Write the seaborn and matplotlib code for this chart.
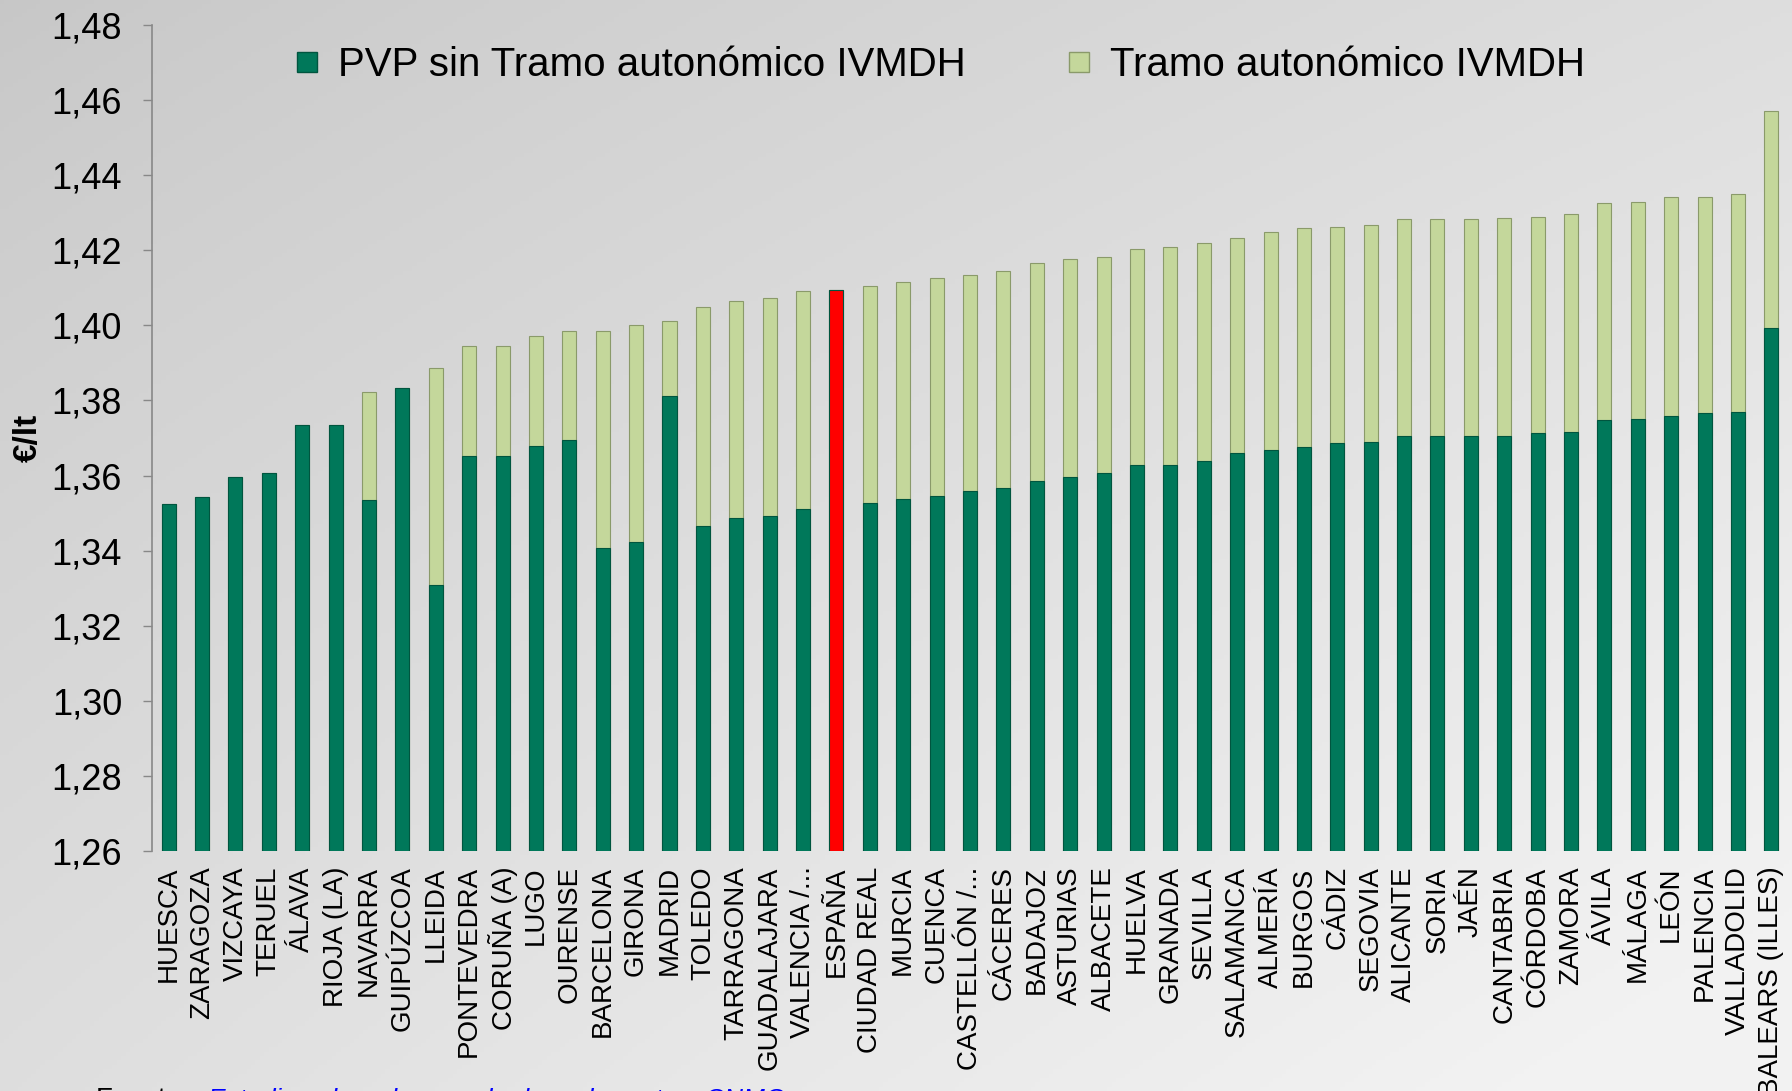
import numpy as np
import pandas as pd
import matplotlib
matplotlib.use("Agg")
import matplotlib.pyplot as plt
from matplotlib.lines import Line2D
import seaborn as sns

provincias = [
    "HUESCA", "ZARAGOZA", "VIZCAYA", "TERUEL", "ÁLAVA", "RIOJA (LA)", "NAVARRA",
    "GUIPÚZCOA", "LLEIDA", "PONTEVEDRA", "CORUÑA (A)", "LUGO", "OURENSE",
    "BARCELONA", "GIRONA", "MADRID", "TOLEDO", "TARRAGONA", "GUADALAJARA",
    "VALENCIA /...", "ESPAÑA", "CIUDAD REAL", "MURCIA", "CUENCA", "CASTELLÓN /...",
    "CÁCERES", "BADAJOZ", "ASTURIAS", "ALBACETE", "HUELVA", "GRANADA", "SEVILLA",
    "SALAMANCA", "ALMERÍA", "BURGOS", "CÁDIZ", "SEGOVIA", "ALICANTE", "SORIA",
    "JAÉN", "CANTABRIA", "CÓRDOBA", "ZAMORA", "ÁVILA", "MÁLAGA", "LEÓN",
    "PALENCIA", "VALLADOLID", "BALEARS (ILLES)",
]

# PVP sin tramo autonómico (€/lt)
pvp_sin_tramo = [
    1.3525, 1.3543, 1.3595, 1.3607, 1.3735, 1.3735, 1.3534,
    1.3832, 1.3309, 1.3653, 1.3653, 1.3680, 1.3696,
    1.3406, 1.3422, 1.3811, 1.3467, 1.3486, 1.3492,
    1.3510, 1.4094, 1.3528, 1.3537, 1.3546, 1.3559,
    1.3568, 1.3586, 1.3595, 1.3607, 1.3629, 1.3629, 1.3638,
    1.3659, 1.3668, 1.3677, 1.3686, 1.3689, 1.3705, 1.3705,
    1.3705, 1.3705, 1.3714, 1.3717, 1.3747, 1.3750, 1.3759,
    1.3766, 1.3769, 1.3994,
]

# PVP total incluyendo tramo autonómico IVMDH (€/lt)
pvp_total = [
    1.3525, 1.3543, 1.3595, 1.3607, 1.3735, 1.3735, 1.3823,
    1.3832, 1.3887, 1.3945, 1.3945, 1.3972, 1.3985,
    1.3985, 1.4000, 1.4012, 1.4049, 1.4064, 1.4073,
    1.4091, 1.4094, 1.4106, 1.4115, 1.4125, 1.4134,
    1.4146, 1.4167, 1.4176, 1.4182, 1.4204, 1.4210, 1.4219,
    1.4234, 1.4249, 1.4259, 1.4262, 1.4268, 1.4283, 1.4283,
    1.4283, 1.4286, 1.4289, 1.4298, 1.4326, 1.4329, 1.4341,
    1.4341, 1.4350, 1.4572,
]

y_ticks = [1.26, 1.28, 1.30, 1.32, 1.34, 1.36, 1.38, 1.40, 1.42, 1.44, 1.46, 1.48]

verde = "#00785A"
verde_claro = "#C4D79B"
rojo = "#FF0000"

df = pd.DataFrame({"prov": provincias, "base": pvp_sin_tramo, "total": pvp_total})

sns.set_style("white")
plt.rcParams["font.family"] = ["Liberation Sans", "DejaVu Sans"]
plt.rcParams["text.color"] = "black"
plt.rcParams["xtick.color"] = "black"
plt.rcParams["ytick.color"] = "black"
plt.rcParams["axes.labelcolor"] = "black"

fig = plt.figure(figsize=(17.92, 10.91), dpi=100)

# grey gradient background
bg = fig.add_axes([0, 0, 1, 1], zorder=-10)
gx, gy = np.meshgrid(np.linspace(0, 1, 400), np.linspace(0, 1, 250))
s = np.clip(0.45 * gx + 0.45 * gy + 0.2 * gx * gy, 0, 1) ** 0.8
val = 0.78 + 0.17 * s
bg.imshow(np.dstack([val, val, val]), aspect="auto", extent=[0, 1, 1, 0])
bg.set_axis_off()

ax = fig.add_axes([0.0848, 0.22, 0.913, 0.757])
ax.patch.set_alpha(0)

top_cols = [rojo if p == "ESPAÑA" else verde_claro for p in provincias]
base_cols = [rojo if p == "ESPAÑA" else verde for p in provincias]

sns.barplot(data=df, x="prov", y="total", hue="prov", palette=top_cols,
            legend=False, width=0.42, ax=ax, edgecolor="#8a9a6a", linewidth=0.8,
            saturation=1)
sns.barplot(data=df, x="prov", y="base", hue="prov", palette=base_cols,
            legend=False, width=0.42, ax=ax, edgecolor="#00553f", linewidth=0.8,
            saturation=1)

ax.set_ylim(1.26, 1.48)
ax.set_xlim(-0.5, len(provincias) - 0.5)
ax.set_yticks(y_ticks)
ax.set_yticklabels([f"{v:.2f}".replace(".", ",") for v in y_ticks], fontsize=26)
ax.tick_params(axis="y", direction="out", length=6.5, width=1, color="#888888",
               pad=15, left=True, labelcolor="black")
ax.tick_params(axis="x", length=0, pad=11, labelcolor="black")
ax.set_xticks(range(len(provincias)))
ax.set_xticklabels(provincias, rotation=90, fontsize=20, va="top", ha="center")
ax.set_xlabel("")
ax.set_ylabel("€/lt", fontsize=24, fontweight="bold")
ax.yaxis.set_label_coords(-0.066, 0.50)

for side in ["top", "right", "bottom"]:
    ax.spines[side].set_visible(False)
ax.spines["left"].set_color("#888888")
ax.spines["left"].set_linewidth(1.2)

handles = [
    Line2D([], [], marker="s", linestyle="", markersize=14, markerfacecolor=verde,
           markeredgecolor="#00553f"),
    Line2D([], [], marker="s", linestyle="", markersize=14, markerfacecolor=verde_claro,
           markeredgecolor="#8a9a6a"),
]
ax.legend(handles, ["PVP sin Tramo autonómico IVMDH", "Tramo autonómico IVMDH"],
          loc="upper left", bbox_to_anchor=(0.063, 1.019), ncol=2, frameon=False,
          fontsize=29, handletextpad=0.37, columnspacing=2.4, handlelength=0.8)

fig.text(0.0536, 0.0035, "Fuente:", fontsize=20, va="top", ha="left", color="black")
fig.text(0.116, 0.0035, "Estudio sobre el mercado de carburantes, CNMC",
         fontsize=19, va="top", ha="left", color="#0000FF", style="italic")

fig.savefig("out.png", dpi=100)
